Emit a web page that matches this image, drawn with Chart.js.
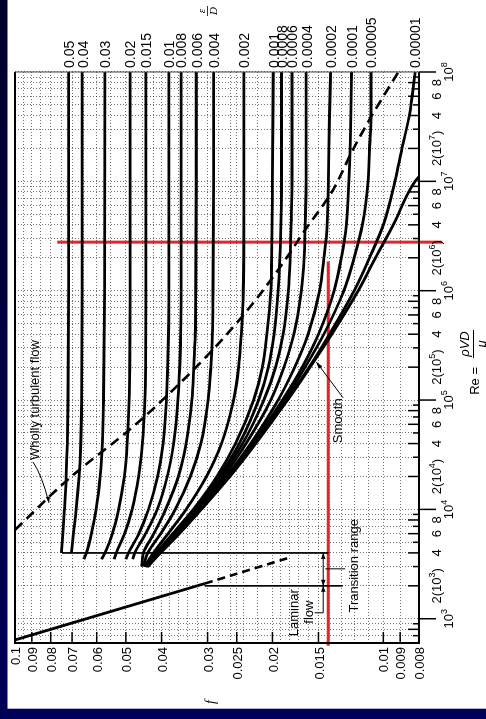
<!DOCTYPE html>
<html>
<head>
<meta charset="utf-8">
<script src="https://cdn.jsdelivr.net/npm/chart.js@4.4.1/dist/chart.umd.min.js"></script>
<style>
  html, body { margin: 0; padding: 0; background: #ffffff; overflow: hidden; width: 486px; height: 719px; }
  /* The Moody chart is laid out landscape and turned a quarter turn counter-clockwise. */
  #turn { position: absolute; left: 0; top: 0; width: 719px; height: 486px;
          transform-origin: 0 0; transform: translate(0, 719px) rotate(-90deg); }
  canvas { display: block; }
</style>
</head>
<body>
<div id="turn"><canvas id="moody" width="719" height="486" style="width:719px;height:486px"></canvas></div>
<script>
// ---- Reynolds numbers at which the friction factor is tabulated ----
const reGrid = [3000, 3500, 4000, 6000, 1e4, 2e4, 4e4, 1e5, 2e5, 4e5, 1e6, 2e6, 4e6, 1e7, 2e7, 4e7, 1e8];

// ---- relative roughness values (curve labels) ----
const roughness = ['0.05', '0.04', '0.03', '0.02', '0.015', '0.01', '0.008', '0.006', '0.004', '0.002',
                   '0.001', '0.0008', '0.0006', '0.0004', '0.0002', '0.0001', '0.00005', '0.00001'];

// ---- friction factor f for each roughness, aligned with reGrid (null = not drawn there) ----
const f_05    = [null, null, 0.0748, 0.0741, 0.0734, 0.0726, 0.0721, 0.0718, null, null, 0.0715, null, null, null, null, null, 0.0715];
const f_04    = [null, null, 0.0703, 0.0694, 0.0682, 0.0670, 0.0663, 0.0659, null, null, 0.0657, null, null, null, null, null, 0.0657];
const f_03    = [null, 0.0650, 0.0640, 0.0620, 0.0602, 0.0587, 0.0579, 0.0575, null, null, 0.0571, null, null, null, null, null, 0.0570];
const f_02    = [null, 0.0582, 0.0570, 0.0544, 0.0523, 0.0505, 0.0496, 0.0490, 0.0488, null, 0.0487, null, null, null, null, null, 0.0487];
const f_015   = [null, 0.0538, 0.0531, 0.0504, 0.0481, 0.0462, 0.0451, 0.0444, 0.0442, null, 0.0441, null, null, null, null, null, 0.0441];
const f_01    = [null, 0.0500, 0.0492, 0.0461, 0.0434, 0.0410, 0.0396, 0.0388, 0.0385, 0.0383, 0.0382, null, null, null, null, null, 0.0382];
const f_008   = [null, 0.0479, 0.0473, 0.0442, 0.0411, 0.0386, 0.0371, 0.0361, 0.0357, 0.0355, 0.0354, null, null, null, null, null, 0.0354];
const f_006   = [0.0453, null, 0.0448, 0.0420, 0.0390, 0.0360, 0.0343, 0.0331, 0.0327, 0.0324, 0.0323, null, null, 0.0322, null, null, 0.0322];
const f_004   = [0.0448, null, 0.0436, 0.0402, 0.0367, 0.0334, 0.0313, 0.0299, 0.0294, 0.0291, 0.0290, null, null, 0.0289, null, null, 0.0289];
const f_002   = [0.0445, null, 0.0421, 0.0384, 0.0343, 0.0302, 0.0275, 0.0255, 0.0247, 0.0243, 0.0240, null, null, 0.0239, null, null, 0.0239];
const f_001   = [0.0443, null, 0.0414, 0.0373, 0.0328, 0.0283, 0.0252, 0.0225, 0.0213, 0.0207, 0.0202, 0.0201, null, 0.0200, null, null, 0.0199];
const f_0008  = [0.0442, null, 0.0412, 0.0370, 0.0325, 0.0279, 0.0246, 0.0218, 0.0205, 0.0198, 0.0193, 0.0191, null, 0.0189, null, null, 0.0189];
const f_0006  = [0.0441, null, 0.0410, 0.0367, 0.0323, 0.0276, 0.0241, 0.0211, 0.0196, 0.0187, 0.0181, 0.0179, 0.0178, 0.0177, null, null, 0.0177];
const f_0004  = [0.0440, null, 0.0409, 0.0365, 0.0320, 0.0272, 0.0236, 0.0202, 0.0186, 0.0175, 0.0167, 0.0164, 0.0163, 0.0162, null, null, 0.0162];
const f_0002  = [0.0439, null, 0.0407, 0.0362, 0.0317, 0.0267, 0.0229, 0.0193, 0.0174, 0.0160, 0.0149, 0.0145, 0.0142, 0.0141, null, 0.0140, 0.0139];
const f_0001  = [0.0438, null, 0.0406, 0.0361, 0.0315, 0.0265, 0.0226, 0.0188, 0.0166, 0.0150, 0.0136, 0.0130, 0.0126, 0.0124, 0.0123, null, 0.0122];
const f_00005 = [0.0437, null, 0.0405, 0.0360, 0.0314, 0.0263, 0.0225, 0.0185, 0.0163, 0.0145, 0.0128, 0.0120, 0.0114, 0.0110, 0.0109, 0.0108, 0.0108];
const f_00001 = [0.0437, null, 0.0404, 0.0359, 0.0313, 0.0262, 0.0223, 0.0183, 0.0159, 0.0140, 0.0120, 0.0109, 0.0100, 0.0093, 0.0089, 0.0085, 0.0082];
const roughCurves = [f_05, f_04, f_03, f_02, f_015, f_01, f_008, f_006, f_004, f_002,
                     f_001, f_0008, f_0006, f_0004, f_0002, f_0001, f_00005, f_00001];

// ---- smooth pipe ----
const smoothRe = [3000, 4000, 6000, 1e4, 2e4, 4e4, 1e5, 2e5, 4e5, 1e6, 2e6, 4e6, 1e7, 1.1e7];
const smoothF  = [0.0436, 0.0403, 0.0358, 0.0312, 0.0261, 0.0222, 0.0182, 0.0158, 0.0138, 0.0117, 0.0105, 0.0094, 0.0082, 0.0080];

// ---- laminar flow, f = 64/Re, solid then dashed into the transition range ----
const laminarRe = [640, 2100];
const laminarF  = [0.1, 0.0305];
const laminarExtRe = [2100, 3600];
const laminarExtF  = [0.0305, 0.0181];

// ---- boundary of wholly turbulent flow (dashed) ----
const turbRe = [6.5e3, 1.95e4, 5.7e4, 1.24e5, 2.9e5, 7.1e5, 1.8e6, 3.6e6, 8e6, 1.94e7, 3.88e7, 1e8];
const turbF  = [0.1, 0.0709, 0.0478, 0.0372, 0.029, 0.023, 0.0187, 0.0163, 0.0138, 0.0121, 0.0108, 0.0091];

// ---- transition-range guide lines ----
const transitionRe = [2000, 4000];
const transitionTopF = [0.0305, 0.0745];
const transitionLowF = [0.0129, 0.0141];
const arrowF = 0.01456;
const arrowRe = [1134, 2000, 4000];

// ---- red reading lines ----
const readRe = 2.78e6;           // constant Reynolds number line
const readReF = [0.0768, 0.00692];
const readF = 0.0141;            // constant friction factor line
const readFRe = [1.85e6, 566];

// ---- axis ticks ----
const fTicks = [0.1, 0.09, 0.08, 0.07, 0.06, 0.05, 0.04, 0.03, 0.025, 0.02, 0.015, 0.01, 0.009, 0.008];
const fGrid = [0.008, 0.009, 0.01, 0.011, 0.012, 0.013, 0.014, 0.015, 0.016, 0.017, 0.018, 0.019, 0.02,
               0.022, 0.024, 0.025, 0.026, 0.028, 0.03, 0.032, 0.034, 0.036, 0.038, 0.04, 0.042, 0.045,
               0.05, 0.055, 0.06, 0.065, 0.07, 0.075, 0.08, 0.085, 0.09, 0.095, 0.1];
const reTicks = [1e3, 2e3, 4e3, 6e3, 8e3, 1e4, 2e4, 4e4, 6e4, 8e4, 1e5, 2e5, 4e5, 6e5, 8e5,
                 1e6, 2e6, 4e6, 6e6, 8e6, 1e7, 2e7, 4e7, 6e7, 8e7, 1e8];
const reTickText = ['10^3', '2(10^3)', '4', '6', '8', '10^4', '2(10^4)', '4', '6', '8', '10^5', '2(10^5)', '4', '6', '8',
                    '10^6', '2(10^6)', '4', '6', '8', '10^7', '2(10^7)', '4', '6', '8', '10^8'];

const FONT = '"Liberation Sans", Arial, sans-serif';

function pts(xs, ys) {
  const out = [];
  xs.forEach((x, i) => { if (ys[i] != null) out.push({ x: x, y: ys[i] }); });
  return out;
}
function line(data, extra) {
  return Object.assign({ data: data, borderColor: '#000', borderWidth: 2.8, pointRadius: 0,
    fill: false, cubicInterpolationMode: 'monotone', order: 1 }, extra || {});
}

const datasets = [];
// red reading lines sit underneath the curves
datasets.push(line([{ x: readRe, y: readReF[0] }, { x: readRe, y: readReF[1] }],
  { borderColor: '#e3262b', borderWidth: 3, clip: false, order: 5, cubicInterpolationMode: 'default', tension: 0 }));
datasets.push(line([{ x: readFRe[0], y: readF }, { x: readFRe[1], y: readF }],
  { borderColor: '#e3262b', borderWidth: 3, clip: false, order: 5, cubicInterpolationMode: 'default', tension: 0 }));
// thin transition guides
transitionRe.forEach((re, i) => {
  datasets.push(line([{ x: re, y: transitionTopF[i] }, { x: re, y: transitionLowF[i] }],
    { borderWidth: 1, order: 4, cubicInterpolationMode: 'default', tension: 0 }));
});
datasets.push(line([{ x: arrowRe[0], y: arrowF }, { x: arrowRe[2], y: arrowF }],
  { borderWidth: 1, order: 4, cubicInterpolationMode: 'default', tension: 0 }));
// roughness curves
roughCurves.forEach((vals, i) => {
  datasets.push(line(pts(reGrid, vals), { label: roughness[i] }));
});
datasets.push(line(pts(smoothRe, smoothF), { label: 'smooth' }));
datasets.push(line(pts(laminarRe, laminarF), { label: 'laminar', cubicInterpolationMode: 'default', tension: 0 }));
datasets.push(line(pts(laminarExtRe, laminarExtF), { borderDash: [8, 5], borderWidth: 2.6, cubicInterpolationMode: 'default', tension: 0 }));
datasets.push(line(pts(turbRe, turbF), { label: 'wholly turbulent', borderDash: [10, 6], borderWidth: 2.6 }));

const backdrop = {
  id: 'backdrop',
  beforeDraw(chart) {
    const ctx = chart.ctx;
    const g = ctx.createLinearGradient(0, 0, 719, 0);
    g.addColorStop(0, '#00005a');
    g.addColorStop(1, '#00002c');
    ctx.save();
    ctx.fillStyle = g;
    ctx.fillRect(0, 0, 719, 486);
    ctx.fillStyle = '#fff';
    ctx.fillRect(10.3, 7.5, 719, 486);
    ctx.restore();
  }
};

function drawSup(ctx, text, cx, cy, size) {
  const parts = text.split(/\^(\d)/);
  const big = size + 'px ' + FONT, small = Math.round(size * 0.72) + 'px ' + FONT;
  let w = 0;
  parts.forEach((p, i) => { ctx.font = i % 2 ? small : big; w += ctx.measureText(p).width; });
  let x = cx - w / 2;
  ctx.textAlign = 'left';
  ctx.textBaseline = 'middle';
  parts.forEach((p, i) => {
    ctx.font = i % 2 ? small : big;
    ctx.fillText(p, x, i % 2 ? cy - size * 0.38 : cy);
    x += ctx.measureText(p).width;
  });
}
function arrowHead(ctx, x1, y1, x2, y2, len, w) {
  const a = Math.atan2(y2 - y1, x2 - x1);
  ctx.beginPath();
  ctx.moveTo(x2, y2);
  ctx.lineTo(x2 - len * Math.cos(a) + w * Math.sin(a), y2 - len * Math.sin(a) - w * Math.cos(a));
  ctx.lineTo(x2 - len * Math.cos(a) - w * Math.sin(a), y2 - len * Math.sin(a) + w * Math.cos(a));
  ctx.closePath();
  ctx.fill();
}

const overlay = {
  id: 'overlay',
  afterDatasetsDraw(chart) {
    const ctx = chart.ctx, a = chart.chartArea;
    const X = v => chart.scales.x.getPixelForValue(v);
    const Y = v => chart.scales.y.getPixelForValue(v);
    ctx.save();
    ctx.fillStyle = '#000';
    ctx.strokeStyle = '#000';

    // frame
    ctx.lineWidth = 2;
    ctx.beginPath();
    ctx.moveTo(a.right, a.top); ctx.lineTo(a.left, a.top); ctx.lineTo(a.left, a.bottom); ctx.lineTo(a.right, a.bottom);
    ctx.stroke();
    ctx.lineWidth = 1;
    ctx.strokeStyle = '#444';
    ctx.beginPath(); ctx.moveTo(a.right, a.top); ctx.lineTo(a.right, a.bottom); ctx.stroke();
    ctx.strokeStyle = '#000';

    // Reynolds-number tick marks: decades outward, subdivisions inward
    ctx.lineWidth = 1.5;
    for (let n = 2; n <= 8; n++) {
      for (let m = 1; m <= 9; m++) {
        const v = m * Math.pow(10, n);
        if (v < 600 || v > 1e8) continue;
        const px = X(v);
        ctx.beginPath();
        if (m === 1) { ctx.moveTo(px, a.bottom); ctx.lineTo(px, a.bottom + 17); }
        else { ctx.moveTo(px, a.bottom); ctx.lineTo(px, a.bottom - (m % 2 === 0 ? 11 : 6)); }
        ctx.stroke();
      }
    }
    // friction-factor tick marks, inward
    fTicks.forEach(f => {
      ctx.beginPath(); ctx.moveTo(a.left, Y(f)); ctx.lineTo(a.left + 11, Y(f)); ctx.stroke();
    });

    // f tick labels
    ctx.font = '13px ' + FONT;
    ctx.textAlign = 'right';
    ctx.textBaseline = 'middle';
    fTicks.forEach(f => ctx.fillText(String(f), a.left - 4, Y(f) + 1.5));

    // Re tick labels
    reTicks.forEach((v, i) => {
      const t = reTickText[i];
      const decade = t.indexOf('10^') === 0;
      drawSup(ctx, t, X(v), decade ? a.bottom + 30 : a.bottom + 18.5, 13);
    });

    // roughness labels at the right-hand ends of the curves
    ctx.font = '14px ' + FONT;
    ctx.textAlign = 'left';
    ctx.textBaseline = 'middle';
    roughCurves.forEach((vals, i) => {
      const last = vals[vals.length - 1];
      ctx.fillText(roughness[i], a.right + 4, Y(last) + 1.5);
    });
    // epsilon / D heading
    ctx.font = 'italic 11px "Liberation Serif", serif';
    ctx.textAlign = 'center';
    ctx.fillText('\u03b5', 708, 202);
    ctx.fillText('D', 708, 214.5);
    ctx.lineWidth = 0.8;
    ctx.beginPath(); ctx.moveTo(703, 207.5); ctx.lineTo(713, 207.5); ctx.stroke();

    // axis titles
    ctx.font = 'italic 14px "Liberation Serif", serif';
    ctx.fillText('f', 17, 211);
    ctx.font = '13px ' + FONT;
    ctx.textAlign = 'right';
    ctx.fillText('Re =', 352, 475);
    ctx.font = 'italic 13px ' + FONT;
    ctx.textAlign = 'center';
    ctx.fillText('\u03c1VD', 375, 465);
    ctx.fillText('\u03bc', 375, 482);
    ctx.lineWidth = 1;
    ctx.beginPath(); ctx.moveTo(361, 473.5); ctx.lineTo(389, 473.5); ctx.stroke();

    // annotations
    ctx.font = '13px ' + FONT;
    ctx.textAlign = 'center';
    ctx.textBaseline = 'middle';
    ctx.fillText('Wholly turbulent flow', X(1e5), Y(0.0882));
    ctx.fillText('Smooth', X(6.46e4), Y(0.01325));
    ctx.fillText('Transition range', X(3050), Y(0.0120));
    ctx.fillText('Laminar', X(1134), Y(0.01746));
    ctx.fillText('flow', X(1150), Y(0.0159));

    ctx.lineWidth = 1;
    // leader to the wholly-turbulent boundary
    ctx.beginPath();
    ctx.moveTo(X(2.72e4), Y(0.0894));
    ctx.quadraticCurveTo(X(2.07e4), Y(0.0845), X(1.15e4), Y(0.0809));
    ctx.stroke();
    arrowHead(ctx, X(1.5e4), Y(0.082), X(1.15e4), Y(0.0809), 6, 2.2);
    // leader to the smooth curve
    ctx.beginPath(); ctx.moveTo(X(1.05e5), Y(0.01286)); ctx.lineTo(X(2.23e5), Y(0.0152)); ctx.stroke();
    arrowHead(ctx, X(1.05e5), Y(0.01286), X(2.23e5), Y(0.0152), 7, 2.2);
    // transition range leader and arrows
    ctx.beginPath(); ctx.moveTo(X(2860), Y(0.01437)); ctx.lineTo(X(2860), Y(0.01269)); ctx.stroke();
    ctx.beginPath(); ctx.moveTo(X(1134), Y(0.01537)); ctx.lineTo(X(1134), Y(arrowF)); ctx.stroke();
    const ay = Y(arrowF);
    arrowHead(ctx, X(3000), ay, X(arrowRe[2]), ay, 6, 2.2);
    arrowHead(ctx, X(3000), ay, X(arrowRe[1]), ay, 6, 2.2);
    arrowHead(ctx, X(1500), ay, X(arrowRe[1]), ay, 6, 2.2);
    ctx.restore();
  }
};

new Chart(document.getElementById('moody'), {
  type: 'line',
  data: { datasets: datasets },
  options: {
    responsive: false,
    animation: false,
    devicePixelRatio: 1,
    events: [],
    layout: { padding: { top: 15, right: 72, left: 0, bottom: 0 } },
    plugins: { legend: { display: false }, tooltip: { enabled: false } },
    scales: {
      x: {
        type: 'logarithmic', position: 'bottom', min: 600, max: 1e8,
        afterFit: s => { s.height = 67; },
        afterBuildTicks: s => {
          const t = [];
          for (let n = 2; n <= 8; n++) for (let m = 1; m <= 9; m++) {
            const v = m * Math.pow(10, n);
            if (v >= 600 && v <= 1e8) t.push({ value: v });
          }
          s.ticks = t;
        },
        ticks: { display: false },
        grid: { color: 'rgba(0,0,0,0.55)', lineWidth: 1, drawTicks: false },
        border: { display: false, dash: [1, 2] }
      },
      y: {
        type: 'logarithmic', position: 'left', min: 0.008, max: 0.1,
        afterFit: s => { s.width = 76; },
        afterBuildTicks: s => { s.ticks = fGrid.map(v => ({ value: v })); },
        ticks: { display: false },
        grid: { color: 'rgba(0,0,0,0.55)', lineWidth: 1, drawTicks: false },
        border: { display: false, dash: [1, 2] }
      }
    }
  },
  plugins: [backdrop, overlay]
});
</script>
</body>
</html>
